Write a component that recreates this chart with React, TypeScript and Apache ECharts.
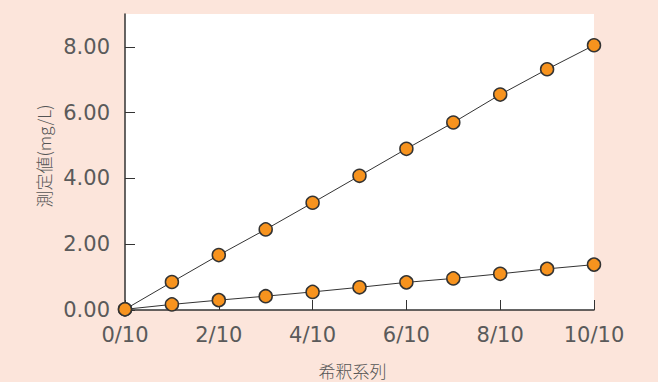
import React, { useEffect, useRef } from "react";
import * as echarts from "echarts";

const dilution = [0, 1, 2, 3, 4, 5, 6, 7, 8, 9, 10];
const highSeries = [0.02, 0.85, 1.67, 2.45, 3.26, 4.08, 4.9, 5.7, 6.55, 7.32, 8.05];
const lowSeries = [0.02, 0.17, 0.3, 0.42, 0.55, 0.69, 0.84, 0.96, 1.1, 1.25, 1.38];
const yTicks = [0, 2, 4, 6, 8];
const xTicks = [0, 2, 4, 6, 8, 10];

export default function App() {
  const ref = useRef<HTMLDivElement>(null);
  useEffect(() => {
    const chart = echarts.init(ref.current!, undefined, { renderer: "svg" });
    const cjk = "'Noto Sans CJK JP', 'Noto Sans', sans-serif";
    const num = "'DejaVu Sans', sans-serif";
    const mk = (vals: number[]) => ({
      type: "line",
      data: dilution.map((x, i) => [x, vals[i]]),
      symbol: "circle",
      symbolSize: 13,
      lineStyle: { color: "#333", width: 1 },
      itemStyle: { color: "#F7931E", borderColor: "#333", borderWidth: 1.5 },
      z: 3,
    });
    chart.setOption({
      animation: false,
      backgroundColor: "#FCE5DB",
      grid: {
        left: 125,
        right: 64,
        top: 14,
        bottom: 72,
        show: true,
        backgroundColor: "#fff",
        borderWidth: 0,
        outerBoundsMode: "none",
        containLabel: false,
      },
      xAxis: {
        type: "value",
        min: 0,
        max: 10,
        interval: 2,
        name: "希釈系列",
        nameLocation: "middle",
        nameGap: 52,
        nameTextStyle: { fontSize: 17, lineHeight: 17, color: "#555", fontFamily: cjk, fontWeight: 300, padding: [0, 14, 0, 0] },
        axisLine: { lineStyle: { color: "#333", width: 1.5 } },
        axisTick: { inside: true, length: 10, lineStyle: { color: "#333" }, customValues: xTicks },
        axisLabel: {
          customValues: xTicks,
          formatter: (v: number) => `${v}/10`,
          fontSize: 21,
          color: "#5a5a5a",
          margin: 14,
          fontFamily: num,
        },
        splitLine: { show: false },
      },
      yAxis: {
        type: "value",
        min: 0,
        max: 9,
        name: "測定値(mg/L)",
        nameLocation: "middle",
        nameGap: 72,
        nameTextStyle: { fontSize: 17, color: "#555", fontFamily: cjk, fontWeight: 300, padding: [0, 0, 0, 12] },
        axisLine: { show: true, lineStyle: { color: "#333", width: 1.5 } },
        axisTick: { show: true, inside: true, length: 10, lineStyle: { color: "#333" }, customValues: yTicks },
        axisLabel: {
          customValues: yTicks,
          formatter: (v: number) => v.toFixed(2),
          fontSize: 21,
          color: "#5a5a5a",
          margin: 15,
          fontFamily: num,
        },
        splitLine: { show: false },
      },
      series: [mk(highSeries), mk(lowSeries)],
    });
    return () => chart.dispose();
  }, []);
  return <div ref={ref} style={{ width: 658, height: 382, position: "fixed", left: 0, top: 0 }} />;
}
